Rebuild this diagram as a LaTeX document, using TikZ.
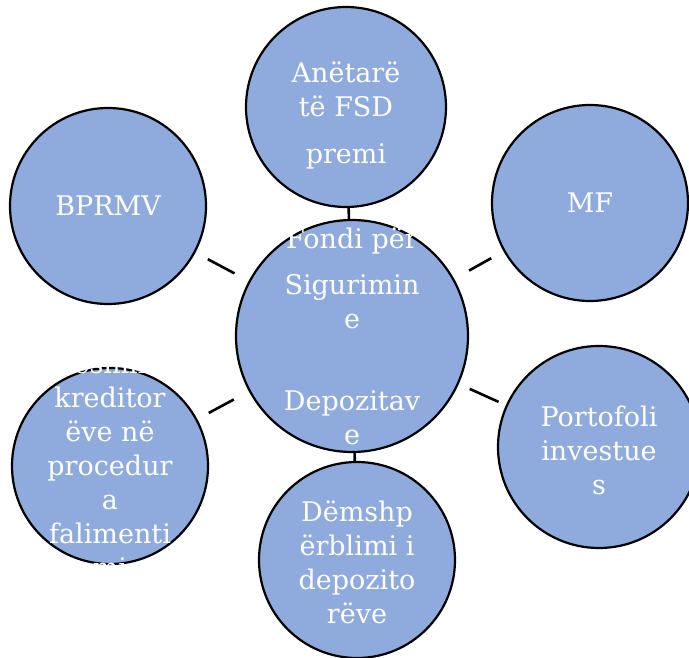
\documentclass[tikz,border=0pt]{standalone}
\usepackage{fontspec}
\setmainfont{DejaVu Serif}
\definecolor{blue1}{RGB}{143,170,220}
\tikzstyle{bubble} = [circle, draw=black, line width=2.2pt, fill=blue1, inner sep=0pt]
\tikzstyle{bubtext} = [text=white, align=center, inner sep=0pt, font=\fontsize{27}{34}\selectfont]
\tikzstyle{link} = [draw, line width=2.6pt]

\begin{document}
\begin{tikzpicture}[x=1pt, y=-1pt]
    \useasboundingbox (0,0) rectangle (689,658);

    % circles
    \node [bubble, minimum size=232pt] (fsd) at (352,336) {};
    \node [bubble, minimum size=200pt] (members) at (346,107) {};
    \node [bubble, minimum size=196pt] (bprmv) at (108,206) {};
    \node [bubble, minimum size=196pt] (mf) at (590,203) {};
    \node [bubble, minimum size=196pt] (kred) at (110,466) {};
    \node [bubble, minimum size=202pt] (port) at (599,447) {};
    \node [bubble, minimum size=196pt] (dem) at (357,560) {};

    % connectors
    \draw [link] (fsd) -- (members);
    \draw [link] (fsd) -- (dem);
    \draw [link, shorten <=16pt, shorten >=14pt] (fsd) -- (bprmv);
    \draw [link, shorten <=17pt, shorten >=14pt] (fsd) -- (mf);
    \draw [link, shorten <=17pt, shorten >=13pt] (fsd) -- (kred);
    \draw [link, shorten <=12pt, shorten >=8pt] (fsd) -- (port);

    % texts
    \node [bubtext] (fsd-t) at (fsd) {Fondi për\\[12pt]Sigurimin\\e\\[48pt]Depozitav\\e};
    \node [bubtext, yshift=-8pt] (members-t) at (members) {Anëtarë\\të FSD\\[13pt]premi};
    \node [bubtext] (bprmv-t) at (bprmv) {BPRMV};
    \node [bubtext] (mf-t) at (mf) {MF};
    \node [bubtext] (kred-t) at (kred) {esimi\\kreditor\\ëve në\\procedur\\a\\falimenti\\mi};
    \node [bubtext, yshift=-3pt] (port-t) at (port) {Portofoli\\investue\\s};
    \node [bubtext, yshift=-2.5pt] (dem-t) at (dem) {Dëmshp\\ërblimi i\\depozito\\rëve};
\end{tikzpicture}
\end{document}
